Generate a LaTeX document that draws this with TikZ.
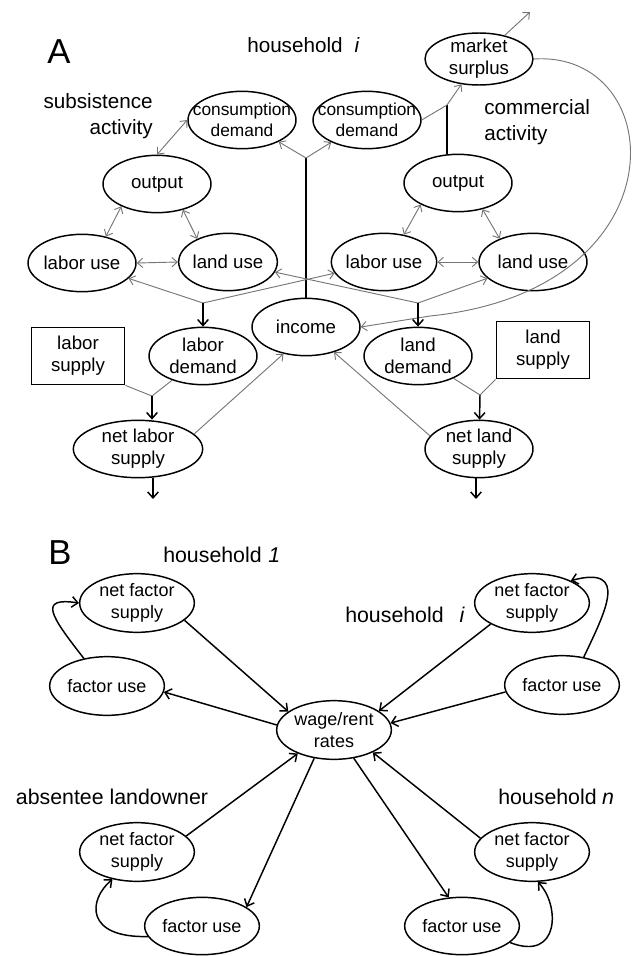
\documentclass[tikz,border=0pt]{standalone}
\usepackage{fontspec}
\setmainfont{Liberation Sans}
\usetikzlibrary{arrows.meta,shapes.geometric}
\definecolor{linkgray}{RGB}{118,118,118}
\newcommand{\ovaltext}{\fontsize{14}{16.5}\selectfont}
\newcommand{\ovaltextsmall}{\fontsize{13}{16}\selectfont}
\newcommand{\ovaltextb}{\fontsize{13.5}{16}\selectfont}
\newcommand{\tagtext}{\fontsize{15.5}{19}\selectfont}
\newcommand{\tagtextb}{\fontsize{16}{19}\selectfont}
\newcommand{\paneltext}{\fontsize{26}{30}\selectfont}

\begin{document}
\begin{tikzpicture}[x=0.75pt,y=-0.75pt,
  oval/.style={ellipse, draw, line width=1.1pt, minimum width=81pt, minimum height=43pt, inner xsep=-16pt, inner ysep=-8pt, align=center, font=\ovaltext},
  factoroval/.style={oval, minimum width=86pt, minimum height=44pt, font=\ovaltextb},
  supplybox/.style={rectangle, draw, line width=1.1pt, minimum width=70pt, minimum height=43pt, align=center, font=\ovaltext},
  paneltag/.style={inner sep=0pt, font=\paneltext},
  sidetag/.style={inner sep=0pt, font=\tagtext},
  sidetagb/.style={inner sep=0pt, font=\tagtextb},
  grayline/.style={draw=linkgray, line width=0.7pt},
  grayarrow/.style={grayline, -{Straight Barb[length=4pt,width=7pt]}},
  grayboth/.style={grayline, {Straight Barb[length=4pt,width=7pt]}-{Straight Barb[length=4pt,width=7pt]}},
  blackline/.style={line width=1.1pt},
  blackarrow/.style={blackline, -{Straight Barb[length=4.5pt,width=8pt]}}]
\useasboundingbox (0,0) rectangle (633,956);

% Panel A: household i
\node[paneltag] (tagA) at (59,52) {A};
\node[sidetag, anchor=west] (hhA) at (247,45) {household\hspace{9pt}\textit{i}};
\node[sidetag, anchor=east, align=right] (subsis) at (153,116) {subsistence\\activity};
\node[sidetag, anchor=west, align=left] (commer) at (484,122) {commercial\\activity};

% subsistence side
\node[oval, font=\ovaltextsmall] (cdS) at (242,120) {consumption\\demand};
\node[oval] (outS) at (157,184) {output};
\node[oval] (labS) at (82,263) {labor use};
\node[oval, minimum width=74pt] (lanS) at (228,262) {land use};

% commercial side
\node[oval, font=\ovaltextsmall] (cdC) at (367,120) {consumption\\demand};
\node[oval, minimum height=39pt] (ms) at (479,59) {market\\surplus};
\node[oval] (outC) at (458,183) {output};
\node[oval, minimum width=79pt] (labC) at (384,262) {labor use};
\node[oval] (lanC) at (533,262) {land use};

% income and factor markets
\node[oval] (inc) at (306,327) {income};
\node[oval] (ldS) at (203,356) {labor\\demand};
\node[oval] (ldC) at (418,356) {land\\demand};
\node[supplybox] (lsupS) at (78,356) {labor\\supply};
\node[supplybox] (lsupC) at (543,350) {land\\supply};
\node[oval, minimum width=97pt] (nlS) at (138,449) {net labor\\supply};
\node[oval] (nlC) at (479,449) {net land\\supply};

% production links
\draw[grayboth] (outS.north) -- (cdS.west);
\draw[grayboth] (outS.212) -- (labS.48);
\draw[grayboth] (outS.315) -- (lanS.143);
\draw[grayboth] (labS.east) -- (lanS.west);
\draw[grayboth] (outC.210) -- (labC.54);
\draw[grayboth] (outC.313) -- (lanC.145);
\draw[grayboth] (labC.east) -- (lanC.west);

% income to consumption
\coordinate (fork) at (306,158);
\draw[blackline] (inc) -- (fork);
\draw[grayarrow] (fork) -- (cdS);
\draw[grayarrow] (fork) -- (cdC);

% market surplus
\coordinate (msmerge) at (447,105);
\coordinate (msout) at (530,12);
\draw[blackline] (outC.north -| msmerge) -- (msmerge);
\draw[grayline] (cdC.east) -- (msmerge);
\draw[grayarrow] (msmerge) -- (ms);
\draw[grayarrow] (ms) -- (msout);
\draw[grayarrow] (ms.east) .. controls (670,50) and (685,290) .. (430,316) -- (inc.east);

% factor demand
\coordinate (labjoin) at (203,303);
\coordinate (landjoin) at (418,303);
\draw[grayarrow] (labjoin) -- (labS);
\draw[grayarrow] (labjoin) -- (labC);
\draw[blackarrow] (labjoin) -- (ldS);
\draw[grayarrow] (landjoin) -- (lanS);
\draw[grayarrow] (landjoin) -- (lanC);
\draw[blackarrow] (landjoin) -- (ldC);

% net factor supply
\coordinate (labnet) at (152,396);
\coordinate (landnet) at (480,395);
\coordinate (labout) at (153,499);
\coordinate (landout) at (476,499);
\draw[grayline] (lsupS.south east) -- (labnet);
\draw[grayline] (ldS) -- (labnet);
\draw[blackarrow] (labnet) -- (labnet |- nlS.north);
\draw[grayline] (lsupC.south west) -- (landnet);
\draw[grayline] (ldC) -- (landnet);
\draw[blackarrow] (landnet) -- (nlC);
\draw[blackarrow] (nlS.south -| labout) -- (labout);
\draw[blackarrow] (nlC.south -| landout) -- (landout);
\draw[grayarrow] (nlS.15) -- (inc.230);
\draw[grayarrow] (nlC.165) -- (inc.318);

% Panel B: factor markets
\node[paneltag] (tagB) at (60,553) {B};
\node[sidetagb, anchor=west] (hh1) at (163,555) {household\hspace{5pt}\textit{1}};
\node[sidetagb, anchor=west] (hhi) at (345,615) {household\hspace{12pt}\textit{i}};
\node[sidetagb] (absent) at (112,797) {absentee landowner};
\node[sidetagb, anchor=west] (hhn) at (498,797) {household\hspace{4pt}\textit{n}};

\node[factoroval] (wr) at (334,730) {wage/rent\\rates};
\node[factoroval] (nfs1) at (137,603) {net factor\\supply};
\node[factoroval] (fu1) at (107,686) {factor use};
\node[factoroval] (nfsi) at (532,603) {net factor\\supply};
\node[factoroval] (fui) at (562,685) {factor use};
\node[factoroval] (nfsa) at (137,852) {net factor\\supply};
\node[factoroval, minimum height=43pt] (fua) at (202,926) {factor use};
\node[factoroval] (nfsn) at (532,852) {net factor\\supply};
\node[factoroval, minimum height=43pt] (fun) at (462,926) {factor use};

% market links
\draw[blackarrow] (nfs1.340) -- (wr.158);
\draw[blackarrow] (wr.175) -- (fu1.354);
\draw[blackarrow] (nfsi.207) -- (wr.23);
\draw[blackarrow] (fui.187) -- (wr.7);
\draw[blackarrow] (nfsa.18) -- (wr.213);
\draw[blackarrow] (wr.235) -- (fua.23);
\draw[blackarrow] (nfsn.165) -- (wr.330);
\draw[blackarrow] (wr.305) -- (fun.115);

% own-use loops
\draw[blackarrow] (fu1.130) .. controls (50,615) and (38,597) .. (nfs1.west);
\draw[blackarrow] (fui.52) .. controls (605,612) and (630,565) .. (nfsi.30);
\draw[blackarrow] (fua.191) .. controls (85,938) and (88,900) .. (nfsa.228);
\draw[blackarrow] (fun.341) .. controls (560,962) and (560,905) .. (nfsn.281);
\end{tikzpicture}
\end{document}
